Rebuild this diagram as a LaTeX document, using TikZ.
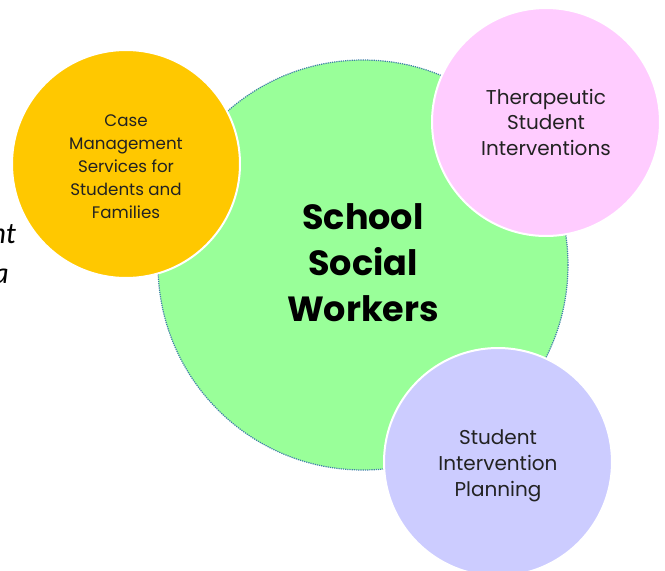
\documentclass[tikz,border=0pt]{standalone}
\usepackage{fontspec}
\setmainfont{Poppins}
\newfontfamily\headfont{Poppins}
\newfontfamily\sidefont{Carlito}
\usetikzlibrary{positioning}

\definecolor{hubgreen}{HTML}{99FF99}
\definecolor{caseyellow}{HTML}{FFC800}
\definecolor{therapink}{HTML}{FFCCFF}
\definecolor{planlilac}{HTML}{CCCCFF}
\definecolor{hubedge}{HTML}{3F7FA8}
\definecolor{inktext}{HTML}{222222}

\begin{document}
\begin{tikzpicture}[
    x=1pt, y=-1pt,
    hub/.style={circle, fill=hubgreen, draw=hubedge, densely dotted, line width=1.2pt,
      minimum size=410pt, inner sep=0pt},
    bubble/.style={circle, draw=white, line width=2pt, minimum size=228pt, inner sep=0pt,
      align=center, text=inktext},
    bubbletext/.style={align=center, text=inktext},
    sidetext/.style={font=\sidefont\itshape\fontsize{30}{32}\selectfont, anchor=base east, inner sep=0pt}
  ]

  \useasboundingbox (0,0) rectangle (665,571);

  % cut-off words at the left edge
  \node[sidetext] (frag1) at (16,243) {nt};
  \node[sidetext] (frag2) at (9,283) {a};

  \node[hub] (workers) at (363,265) {};
  \node[align=center, font=\headfont\bfseries\fontsize{35}{46}\selectfont] (workerstext) at (363,263)
    {School\\Social\\Workers};

  \node[bubble, fill=caseyellow] (casemgmt) at (126,164) {};
  \node[bubbletext, font=\fontsize{16.7}{23}\selectfont, below=3pt of casemgmt.center, anchor=center] (casetext)
    {Case\\Management\\Services for\\Students and\\Families};
  \node[bubble, fill=therapink, font=\fontsize{20}{25.5}\selectfont] (therapy) at (546,122)
    {Therapeutic\\Student\\Interventions};
  \node[bubble, fill=planlilac] (planning) at (498,462) {};
  \node[bubbletext, font=\fontsize{20}{26}\selectfont, below=4pt of planning.center, anchor=center] (plantext)
    {Student\\Intervention\\Planning};

\end{tikzpicture}
\end{document}
